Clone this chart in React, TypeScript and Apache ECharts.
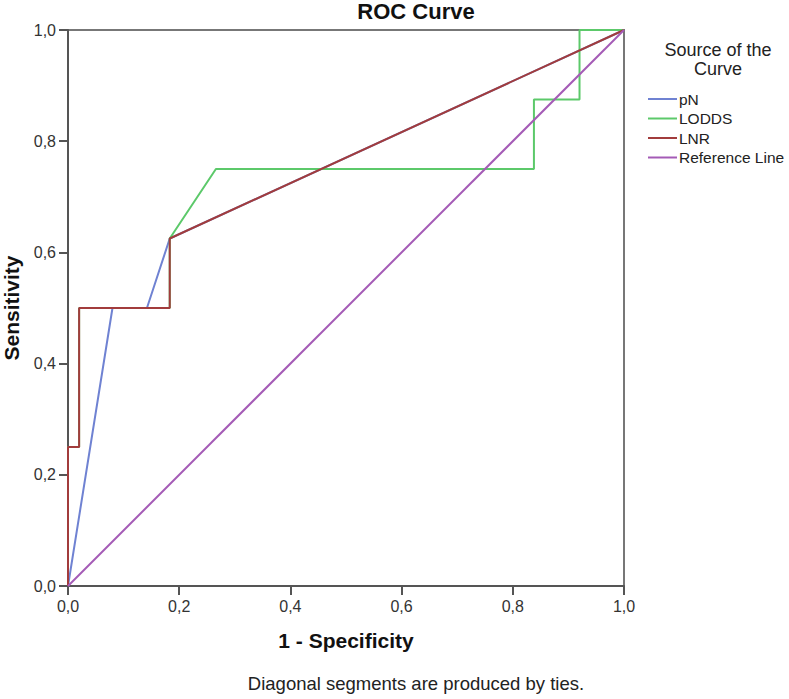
import React, { useEffect, useRef } from "react";
import * as echarts from "echarts";

// ROC coordinates: 1 - specificity (x) against sensitivity (y)
const pnX = [0, 0.08, 0.142, 0.183, 1];
const pnY = [0, 0.5, 0.5, 0.625, 1];

const loddsX = [0, 0, 0.02, 0.02, 0.183, 0.183, 0.266, 0.838, 0.838, 0.92, 0.92, 1];
const loddsY = [0, 0.25, 0.25, 0.5, 0.5, 0.625, 0.75, 0.75, 0.875, 0.875, 1, 1];

const lnrX = [0, 0, 0.02, 0.02, 0.183, 0.183, 1];
const lnrY = [0, 0.25, 0.25, 0.5, 0.5, 0.625, 1];

const refX = [0, 1];
const refY = [0, 1];

const seriesNames = ["pN", "LODDS", "LNR", "Reference Line"];
const seriesColors = ["#6f82d2", "#5cc96a", "#a23c3c", "#a45bb6"];
const seriesX = [pnX, loddsX, lnrX, refX];
const seriesY = [pnY, loddsY, lnrY, refY];

const FONT = "'Liberation Sans', Arial, sans-serif";

const fmt = (v: number) => v.toFixed(1).replace(".", ",");

export default function App() {
  const ref = useRef<HTMLDivElement>(null);

  useEffect(() => {
    if (!ref.current) return;
    const chart = echarts.init(ref.current, undefined, { renderer: "svg" });

    const legendGraphics: any[] = [];
    seriesNames.forEach((name, i) => {
      const y = 99 + i * 19.5;
      legendGraphics.push({
        type: "line",
        shape: { x1: 648, y1: y, x2: 677, y2: y },
        style: { stroke: seriesColors[i], lineWidth: 2 },
      });
      legendGraphics.push({
        type: "text",
        x: 679,
        y,
        style: {
          text: name,
          fontSize: 15.5,
          fontFamily: FONT,
          fill: "#222",
          textAlign: "left",
          textVerticalAlign: "middle",
        },
      });
    });

    const axisCommon = {
      type: "value" as const,
      min: 0,
      max: 1,
      interval: 0.2,
      splitLine: { show: false },
      axisLine: { show: true, lineStyle: { color: "#555", width: 2 } },
      axisTick: { show: true, length: 9, lineStyle: { color: "#555", width: 2 } },
      axisLabel: {
        formatter: fmt,
        fontSize: 16,
        fontFamily: FONT,
        color: "#333",
      },
      nameLocation: "middle" as const,
      nameTextStyle: {
        fontSize: 21,
        fontWeight: "bold" as const,
        fontFamily: FONT,
        color: "#111",
      },
    };

    chart.setOption({
      animation: false,
      backgroundColor: "#fff",
      grid: {
        left: 68,
        top: 30,
        width: 556,
        height: 556,
        containLabel: false,
        outerBoundsMode: "none",
        show: true,
        borderColor: "#777",
        borderWidth: 2,
        backgroundColor: "transparent",
      },
      xAxis: {
        ...axisCommon,
        name: "1 - Specificity",
        nameGap: 44,
        axisLabel: { ...axisCommon.axisLabel, margin: 12 },
      },
      yAxis: {
        ...axisCommon,
        name: "Sensitivity",
        nameGap: 46,
        axisLabel: { ...axisCommon.axisLabel, margin: 12 },
      },
      series: seriesNames.map((name, i) => ({
        name,
        type: "line",
        data: seriesX[i].map((x, j) => [x, seriesY[i][j]]),
        showSymbol: false,
        symbol: "none",
        lineStyle: { color: seriesColors[i], width: 2 },
        itemStyle: { color: seriesColors[i] },
        z: 2 + i,
      })),
      graphic: [
        {
          type: "text",
          x: 416,
          y: 11,
          style: {
            text: "ROC Curve",
            fontSize: 22,
            fontWeight: "bold",
            fontFamily: FONT,
            fill: "#111",
            textAlign: "center",
            textVerticalAlign: "middle",
          },
        },
        {
          type: "text",
          x: 718,
          y: 50,
          style: {
            text: "Source of the",
            fontSize: 18,
            fontFamily: FONT,
            fill: "#222",
            textAlign: "center",
            textVerticalAlign: "middle",
          },
        },
        {
          type: "text",
          x: 718,
          y: 69,
          style: {
            text: "Curve",
            fontSize: 18,
            fontFamily: FONT,
            fill: "#222",
            textAlign: "center",
            textVerticalAlign: "middle",
          },
        },
        ...legendGraphics,
        {
          type: "text",
          x: 416,
          y: 683,
          style: {
            text: "Diagonal segments are produced by ties.",
            fontSize: 18.5,
            fontFamily: FONT,
            fill: "#222",
            textAlign: "center",
            textVerticalAlign: "middle",
          },
        },
      ],
    });

    return () => chart.dispose();
  }, []);

  return <div ref={ref} style={{ width: 789, height: 699, position: "absolute", left: 0, top: 0 }} />;
}
